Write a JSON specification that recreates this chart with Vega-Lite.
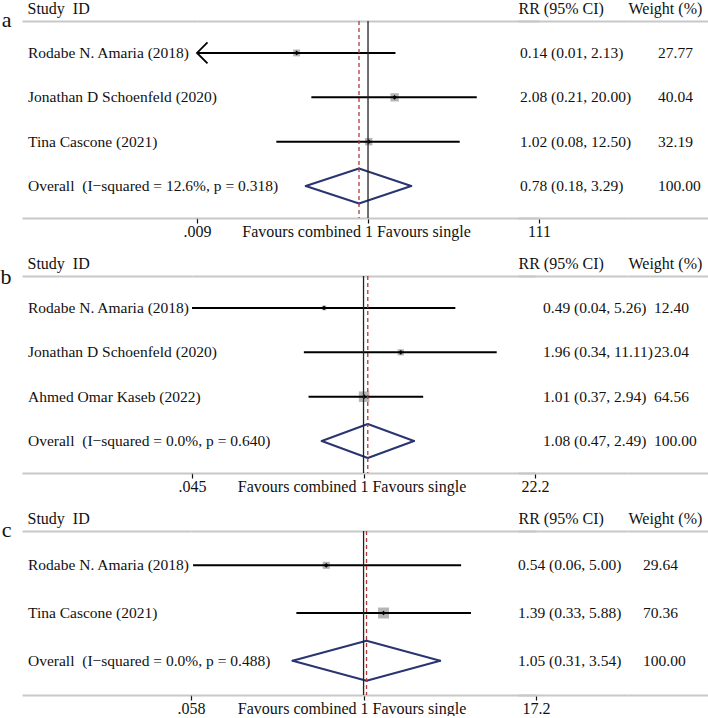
{
"$schema": "https://vega.github.io/schema/vega-lite/v6.json",
"autosize": {"type": "pad"},
"padding": {"left": 0, "top": 0, "right": 0, "bottom": 0},
"background": "white",
"spacing": 16,
"config": {
  "view": {"stroke": null},
  "font": "Liberation Serif",
  "axis": {"grid": false, "domainColor": "#c8c8c8", "domainWidth": 1.8, "labelFont": "Liberation Serif", "titleFont": "Liberation Serif", "titleFontWeight": "normal", "titleColor": "#111", "labelColor": "#111", "titleFontSize": 16, "labelFontSize": 16, "labelLimit": 0},
  "text": {"font": "Liberation Serif", "fontSize": 15.5, "color": "#111"}
},
"datasets": {
  "pa": [
    {"study": "Rodabe N. Amaria (2018)", "kind": "study", "est": 0.14, "lo": 0.0085, "hi": 2.13, "ci": "0.14 (0.01, 2.13)", "w": 27.77},
    {"study": "Jonathan D Schoenfeld (2020)", "kind": "study", "est": 2.08, "lo": 0.21, "hi": 20.0, "ci": "2.08 (0.21, 20.00)", "w": 40.04},
    {"study": "Tina Cascone (2021)", "kind": "study", "est": 1.02, "lo": 0.08, "hi": 12.5, "ci": "1.02 (0.08, 12.50)", "w": 32.19},
    {"study": "Overall\u00a0 (I−squared = 12.6%, p = 0.318)", "kind": "overall", "est": 0.78, "lo": 0.18, "hi": 3.29, "ci": "0.78 (0.18, 3.29)", "w": 100}
  ],
  "pb": [
    {"study": "Rodabe N. Amaria (2018)", "kind": "study", "est": 0.49, "lo": 0.04, "hi": 5.26, "ci": "0.49 (0.04, 5.26)", "w": 12.40},
    {"study": "Jonathan D Schoenfeld (2020)", "kind": "study", "est": 1.96, "lo": 0.34, "hi": 11.11, "ci": "1.96 (0.34, 11.11)", "w": 23.04},
    {"study": "Ahmed Omar Kaseb (2022)", "kind": "study", "est": 1.01, "lo": 0.37, "hi": 2.94, "ci": "1.01 (0.37, 2.94)", "w": 64.56},
    {"study": "Overall\u00a0 (I−squared = 0.0%, p = 0.640)", "kind": "overall", "est": 1.08, "lo": 0.47, "hi": 2.49, "ci": "1.08 (0.47, 2.49)", "w": 100}
  ],
  "pc": [
    {"study": "Rodabe N. Amaria (2018)", "kind": "study", "est": 0.54, "lo": 0.06, "hi": 5.0, "ci": "0.54 (0.06, 5.00)", "w": 29.64},
    {"study": "Tina Cascone (2021)", "kind": "study", "est": 1.39, "lo": 0.33, "hi": 5.88, "ci": "1.39 (0.33, 5.88)", "w": 70.36},
    {"study": "Overall\u00a0 (I−squared = 0.0%, p = 0.488)", "kind": "overall", "est": 1.05, "lo": 0.31, "hi": 3.54, "ci": "1.05 (0.31, 3.54)", "w": 100}
  ]
},
"vconcat": [
{
  "bounds": "flush", "spacing": 0,
  "hconcat": [
    {
      "width": 175, "height": 197, "data": {"name": "pa"},
      "resolve": {"axis": {"x": "independent"}},
      "layer": [
        {"mark": {"type": "text", "align": "left", "baseline": "middle", "dx": 6},
         "encoding": {
           "y": {"field": "study", "type": "nominal", "sort": null, "scale": {"type": "point", "padding": 0.72},
                 "axis": {"title": "a", "titleAngle": 0, "titleAlign": "right", "titleBaseline": "alphabetic", "titleX": -11, "titleY": 5, "titleFontSize": 22, "labels": false, "ticks": false, "domain": false}},
           "x": {"datum": 0, "type": "quantitative", "scale": {"domain": [0, 1]},
                 "axis": {"orient": "top", "title": "Study\u00a0 ID", "titleAngle": 0, "titleAlign": "left", "titleBaseline": "alphabetic", "titleX": 5, "titleY": -8, "labels": false, "ticks": false}},
           "text": {"field": "study"}}},
        {"mark": {"type": "text"},
         "encoding": {"x": {"datum": 0, "type": "quantitative", "axis": {"orient": "bottom", "title": null, "labels": false, "ticks": false}}, "text": {"value": ""}}}
      ]
    },
    {
      "width": 321, "height": 197, "data": {"name": "pa"},
      "resolve": {"axis": {"x": "independent"}},
      "layer": [
        {"transform": [{"filter": "datum.kind == 'study'"}],
         "mark": {"type": "point", "shape": "square", "filled": true, "color": "#b5b5b5", "opacity": 1},
         "encoding": {
           "x": {"field": "est", "type": "quantitative", "scale": {"type": "log", "domain": [0.009, 111], "nice": false, "range": [0, 342], "clamp": true}, "axis": null},
           "y": {"field": "study", "type": "nominal", "sort": null, "scale": {"type": "point", "padding": 0.72}, "axis": null},
           "size": {"field": "w", "type": "quantitative", "scale": {"domain": [0, 100], "range": [0, 170]}, "legend": null}}},
        {"transform": [{"filter": "datum.kind == 'study'"}],
         "mark": {"type": "rule", "color": "#000", "strokeWidth": 2},
         "encoding": {
           "x": {"field": "lo", "type": "quantitative",
                 "axis": {"orient": "bottom", "title": null, "values": [0.009, 1, 111],
                          "labelExpr": "datum.value == 1 ? 'Favours combined 1 Favours single' : (datum.value < 1 ? replace(toString(datum.value), '0.', '.') : toString(datum.value))",
                          "labelFlush": false, "labelOverlap": false, "labelBound": false,
                          "tickColor": "#111", "tickSize": 5, "tickWidth": 1.2, "labelPadding": 0,
                          "labelOffset": {"condition": {"test": "datum.value == 1", "value": -12}, "value": 0}}},
           "x2": {"field": "hi"},
           "y": {"field": "study", "type": "nominal", "sort": null, "axis": null}}},
        {"transform": [{"filter": "datum.kind == 'study'"}],
         "mark": {"type": "point", "shape": "diamond", "filled": true, "size": 22, "color": "#000", "opacity": 1},
         "encoding": {"x": {"field": "est", "type": "quantitative", "axis": null}, "y": {"field": "study", "type": "nominal", "sort": null, "axis": null}}},
        {"transform": [{"filter": "datum.lo < 0.009"}],
         "mark": {"type": "point", "shape": "M1,-1L0,0L1,1", "filled": false, "size": 441, "strokeWidth": 1.8, "color": "#000", "opacity": 1},
         "encoding": {"x": {"datum": 0.009, "type": "quantitative", "axis": null}, "y": {"field": "study", "type": "nominal", "sort": null, "axis": null}}},
        {"transform": [{"filter": "datum.kind == 'overall'"}],
         "mark": {"type": "rule", "color": "#2a3570", "strokeWidth": 2, "strokeCap": "round", "y2Offset": -17.5},
         "encoding": {"x": {"field": "lo", "type": "quantitative", "axis": null}, "x2": {"field": "est"}, "y": {"field": "study", "type": "nominal", "sort": null, "axis": null}, "y2": {"field": "study"}}},
        {"transform": [{"filter": "datum.kind == 'overall'"}],
         "mark": {"type": "rule", "color": "#2a3570", "strokeWidth": 2, "strokeCap": "round", "yOffset": -17.5},
         "encoding": {"x": {"field": "est", "type": "quantitative", "axis": null}, "x2": {"field": "hi"}, "y": {"field": "study", "type": "nominal", "sort": null, "axis": null}, "y2": {"field": "study"}}},
        {"transform": [{"filter": "datum.kind == 'overall'"}],
         "mark": {"type": "rule", "color": "#2a3570", "strokeWidth": 2, "strokeCap": "round", "y2Offset": 17.5},
         "encoding": {"x": {"field": "hi", "type": "quantitative", "axis": null}, "x2": {"field": "est"}, "y": {"field": "study", "type": "nominal", "sort": null, "axis": null}, "y2": {"field": "study"}}},
        {"transform": [{"filter": "datum.kind == 'overall'"}],
         "mark": {"type": "rule", "color": "#2a3570", "strokeWidth": 2, "strokeCap": "round", "yOffset": 17.5},
         "encoding": {"x": {"field": "est", "type": "quantitative", "axis": null}, "x2": {"field": "lo"}, "y": {"field": "study", "type": "nominal", "sort": null, "axis": null}, "y2": {"field": "study"}}},
        {"transform": [{"filter": "datum.kind == 'overall'"}],
         "mark": {"type": "rule", "color": "#b0393b", "strokeWidth": 1.3, "strokeDash": [4, 3]},
         "encoding": {"x": {"field": "est", "type": "quantitative", "axis": null}}},
        {"data": {"values": [{}]},
         "mark": {"type": "rule", "color": "#222", "strokeWidth": 1.3},
         "encoding": {"x": {"datum": 1, "type": "quantitative", "axis": {"orient": "top", "title": null, "labels": false, "ticks": false}}}}
      ]
    },
    {
      "width": 110, "height": 197, "data": {"name": "pa"},
      "resolve": {"axis": {"x": "independent"}},
      "layer": [
        {"mark": {"type": "text", "align": "left", "baseline": "middle", "dx": 2},
         "encoding": {
           "y": {"field": "study", "type": "nominal", "sort": null, "scale": {"type": "point", "padding": 0.72}, "axis": null},
           "x": {"datum": 0, "type": "quantitative", "scale": {"domain": [0, 1]},
                 "axis": {"orient": "top", "title": "RR (95% CI)", "titleAngle": 0, "titleAlign": "left", "titleBaseline": "alphabetic", "titleX": 0, "titleY": -8, "labels": false, "ticks": false}},
           "text": {"field": "ci"}}},
        {"mark": {"type": "text"},
         "encoding": {"x": {"datum": 0, "type": "quantitative", "axis": {"orient": "bottom", "title": null, "labels": false, "ticks": false}}, "text": {"value": ""}}}
      ]
    },
    {
      "width": 81, "height": 197, "data": {"name": "pa"},
      "resolve": {"axis": {"x": "independent"}},
      "layer": [
        {"mark": {"type": "text", "align": "left", "baseline": "middle", "dx": 30},
         "encoding": {
           "y": {"field": "study", "type": "nominal", "sort": null, "scale": {"type": "point", "padding": 0.72}, "axis": null},
           "x": {"datum": 0, "type": "quantitative", "scale": {"domain": [0, 1]},
                 "axis": {"orient": "top", "title": "Weight (%)", "titleAngle": 0, "titleAlign": "left", "titleBaseline": "alphabetic", "titleX": 0, "titleY": -8, "labels": false, "ticks": false}},
           "text": {"field": "w", "type": "quantitative", "format": ".2f"}}},
        {"mark": {"type": "text"},
         "encoding": {"x": {"datum": 0, "type": "quantitative", "axis": {"orient": "bottom", "title": null, "labels": false, "ticks": false}}, "text": {"value": ""}}}
      ]
    }
  ]
},
{
  "bounds": "flush", "spacing": 0,
  "hconcat": [
    {
      "width": 170, "height": 197, "data": {"name": "pb"},
      "resolve": {"axis": {"x": "independent"}},
      "layer": [
        {"mark": {"type": "text", "align": "left", "baseline": "middle", "dx": 6},
         "encoding": {
           "y": {"field": "study", "type": "nominal", "sort": null, "scale": {"type": "point", "padding": 0.72},
                 "axis": {"title": "b", "titleAngle": 0, "titleAlign": "right", "titleBaseline": "alphabetic", "titleX": -11, "titleY": 7, "titleFontSize": 22, "labels": false, "ticks": false, "domain": false}},
           "x": {"datum": 0, "type": "quantitative", "scale": {"domain": [0, 1]},
                 "axis": {"orient": "top", "title": "Study\u00a0 ID", "titleAngle": 0, "titleAlign": "left", "titleBaseline": "alphabetic", "titleX": 5, "titleY": -8, "labels": false, "ticks": false}},
           "text": {"field": "study"}}},
        {"mark": {"type": "text"},
         "encoding": {"x": {"datum": 0, "type": "quantitative", "axis": {"orient": "bottom", "title": null, "labels": false, "ticks": false}}, "text": {"value": ""}}}
      ]
    },
    {
      "width": 326, "height": 197, "data": {"name": "pb"},
      "resolve": {"axis": {"x": "independent"}},
      "layer": [
        {"transform": [{"filter": "datum.kind == 'study'"}],
         "mark": {"type": "point", "shape": "square", "filled": true, "color": "#b5b5b5", "opacity": 1},
         "encoding": {
           "x": {"field": "est", "type": "quantitative", "scale": {"type": "log", "domain": [0.045, 22.2], "nice": false, "range": [0, 343], "clamp": true}, "axis": null},
           "y": {"field": "study", "type": "nominal", "sort": null, "scale": {"type": "point", "padding": 0.72}, "axis": null},
           "size": {"field": "w", "type": "quantitative", "scale": {"domain": [0, 100], "range": [0, 210]}, "legend": null}}},
        {"transform": [{"filter": "datum.kind == 'study'"}],
         "mark": {"type": "rule", "color": "#000", "strokeWidth": 2},
         "encoding": {
           "x": {"field": "lo", "type": "quantitative",
                 "axis": {"orient": "bottom", "title": null, "values": [0.045, 1, 22.2],
                          "labelExpr": "datum.value == 1 ? 'Favours combined 1 Favours single' : (datum.value < 1 ? replace(toString(datum.value), '0.', '.') : toString(datum.value))",
                          "labelFlush": false, "labelOverlap": false, "labelBound": false,
                          "tickColor": "#111", "tickSize": 5, "tickWidth": 1.2, "labelPadding": 0,
                          "labelOffset": {"condition": {"test": "datum.value == 1", "value": -12}, "value": 0}}},
           "x2": {"field": "hi"},
           "y": {"field": "study", "type": "nominal", "sort": null, "axis": null}}},
        {"transform": [{"filter": "datum.kind == 'study'"}],
         "mark": {"type": "point", "shape": "diamond", "filled": true, "size": 22, "color": "#000", "opacity": 1},
         "encoding": {"x": {"field": "est", "type": "quantitative", "axis": null}, "y": {"field": "study", "type": "nominal", "sort": null, "axis": null}}},
        {"transform": [{"filter": "datum.kind == 'overall'"}],
         "mark": {"type": "rule", "color": "#2a3570", "strokeWidth": 2, "strokeCap": "round", "y2Offset": -17},
         "encoding": {"x": {"field": "lo", "type": "quantitative", "axis": null}, "x2": {"field": "est"}, "y": {"field": "study", "type": "nominal", "sort": null, "axis": null}, "y2": {"field": "study"}}},
        {"transform": [{"filter": "datum.kind == 'overall'"}],
         "mark": {"type": "rule", "color": "#2a3570", "strokeWidth": 2, "strokeCap": "round", "yOffset": -17},
         "encoding": {"x": {"field": "est", "type": "quantitative", "axis": null}, "x2": {"field": "hi"}, "y": {"field": "study", "type": "nominal", "sort": null, "axis": null}, "y2": {"field": "study"}}},
        {"transform": [{"filter": "datum.kind == 'overall'"}],
         "mark": {"type": "rule", "color": "#2a3570", "strokeWidth": 2, "strokeCap": "round", "y2Offset": 17},
         "encoding": {"x": {"field": "hi", "type": "quantitative", "axis": null}, "x2": {"field": "est"}, "y": {"field": "study", "type": "nominal", "sort": null, "axis": null}, "y2": {"field": "study"}}},
        {"transform": [{"filter": "datum.kind == 'overall'"}],
         "mark": {"type": "rule", "color": "#2a3570", "strokeWidth": 2, "strokeCap": "round", "yOffset": 17},
         "encoding": {"x": {"field": "est", "type": "quantitative", "axis": null}, "x2": {"field": "lo"}, "y": {"field": "study", "type": "nominal", "sort": null, "axis": null}, "y2": {"field": "study"}}},
        {"transform": [{"filter": "datum.kind == 'overall'"}],
         "mark": {"type": "rule", "color": "#b0393b", "strokeWidth": 1.3, "strokeDash": [4, 3]},
         "encoding": {"x": {"field": "est", "type": "quantitative", "axis": null}}},
        {"data": {"values": [{}]},
         "mark": {"type": "rule", "color": "#222", "strokeWidth": 1.3},
         "encoding": {"x": {"datum": 1, "type": "quantitative", "axis": {"orient": "top", "title": null, "labels": false, "ticks": false}}}}
      ]
    },
    {
      "width": 110, "height": 197, "data": {"name": "pb"},
      "resolve": {"axis": {"x": "independent"}},
      "layer": [
        {"mark": {"type": "text", "align": "left", "baseline": "middle", "dx": 25},
         "encoding": {
           "y": {"field": "study", "type": "nominal", "sort": null, "scale": {"type": "point", "padding": 0.72}, "axis": null},
           "x": {"datum": 0, "type": "quantitative", "scale": {"domain": [0, 1]},
                 "axis": {"orient": "top", "title": "RR (95% CI)", "titleAngle": 0, "titleAlign": "left", "titleBaseline": "alphabetic", "titleX": 0, "titleY": -8, "labels": false, "ticks": false}},
           "text": {"field": "ci"}}},
        {"mark": {"type": "text"},
         "encoding": {"x": {"datum": 0, "type": "quantitative", "axis": {"orient": "bottom", "title": null, "labels": false, "ticks": false}}, "text": {"value": ""}}}
      ]
    },
    {
      "width": 81, "height": 197, "data": {"name": "pb"},
      "resolve": {"axis": {"x": "independent"}},
      "layer": [
        {"mark": {"type": "text", "align": "left", "baseline": "middle", "dx": 26},
         "encoding": {
           "y": {"field": "study", "type": "nominal", "sort": null, "scale": {"type": "point", "padding": 0.72}, "axis": null},
           "x": {"datum": 0, "type": "quantitative", "scale": {"domain": [0, 1]},
                 "axis": {"orient": "top", "title": "Weight (%)", "titleAngle": 0, "titleAlign": "left", "titleBaseline": "alphabetic", "titleX": 0, "titleY": -8, "labels": false, "ticks": false}},
           "text": {"field": "w", "type": "quantitative", "format": ".2f"}}},
        {"mark": {"type": "text"},
         "encoding": {"x": {"datum": 0, "type": "quantitative", "axis": {"orient": "bottom", "title": null, "labels": false, "ticks": false}}, "text": {"value": ""}}}
      ]
    }
  ]
},
{
  "bounds": "flush", "spacing": 0,
  "hconcat": [
    {
      "width": 169, "height": 164, "data": {"name": "pc"},
      "resolve": {"axis": {"x": "independent"}},
      "layer": [
        {"mark": {"type": "text", "align": "left", "baseline": "middle", "dx": 6},
         "encoding": {
           "y": {"field": "study", "type": "nominal", "sort": null, "scale": {"type": "point", "padding": 0.72},
                 "axis": {"title": "c", "titleAngle": 0, "titleAlign": "right", "titleBaseline": "alphabetic", "titleX": -11, "titleY": 5, "titleFontSize": 22, "labels": false, "ticks": false, "domain": false}},
           "x": {"datum": 0, "type": "quantitative", "scale": {"domain": [0, 1]},
                 "axis": {"orient": "top", "title": "Study\u00a0 ID", "titleAngle": 0, "titleAlign": "left", "titleBaseline": "alphabetic", "titleX": 5, "titleY": -8, "labels": false, "ticks": false}},
           "text": {"field": "study"}}},
        {"mark": {"type": "text"},
         "encoding": {"x": {"datum": 0, "type": "quantitative", "axis": {"orient": "bottom", "title": null, "labels": false, "ticks": false}}, "text": {"value": ""}}}
      ]
    },
    {
      "width": 327, "height": 164, "data": {"name": "pc"},
      "resolve": {"axis": {"x": "independent"}},
      "layer": [
        {"transform": [{"filter": "datum.kind == 'study'"}],
         "mark": {"type": "point", "shape": "square", "filled": true, "color": "#b5b5b5", "opacity": 1},
         "encoding": {
           "x": {"field": "est", "type": "quantitative", "scale": {"type": "log", "domain": [0.058, 17.2], "nice": false, "range": [0, 345], "clamp": true}, "axis": null},
           "y": {"field": "study", "type": "nominal", "sort": null, "scale": {"type": "point", "padding": 0.72}, "axis": null},
           "size": {"field": "w", "type": "quantitative", "scale": {"domain": [0, 100], "range": [0, 95]}, "legend": null}}},
        {"transform": [{"filter": "datum.kind == 'study'"}],
         "mark": {"type": "rule", "color": "#000", "strokeWidth": 2},
         "encoding": {
           "x": {"field": "lo", "type": "quantitative",
                 "axis": {"orient": "bottom", "title": null, "values": [0.058, 1, 17.2],
                          "labelExpr": "datum.value == 1 ? 'Favours combined 1 Favours single' : (datum.value < 1 ? replace(toString(datum.value), '0.', '.') : toString(datum.value))",
                          "labelFlush": false, "labelOverlap": false, "labelBound": false,
                          "tickColor": "#111", "tickSize": 5, "tickWidth": 1.2, "labelPadding": 0,
                          "labelOffset": {"condition": {"test": "datum.value == 1", "value": -12}, "value": 0}}},
           "x2": {"field": "hi"},
           "y": {"field": "study", "type": "nominal", "sort": null, "axis": null}}},
        {"transform": [{"filter": "datum.kind == 'study'"}],
         "mark": {"type": "point", "shape": "diamond", "filled": true, "size": 22, "color": "#000", "opacity": 1},
         "encoding": {"x": {"field": "est", "type": "quantitative", "axis": null}, "y": {"field": "study", "type": "nominal", "sort": null, "axis": null}}},
        {"transform": [{"filter": "datum.kind == 'overall'"}],
         "mark": {"type": "rule", "color": "#2a3570", "strokeWidth": 2, "strokeCap": "round", "y2Offset": -20},
         "encoding": {"x": {"field": "lo", "type": "quantitative", "axis": null}, "x2": {"field": "est"}, "y": {"field": "study", "type": "nominal", "sort": null, "axis": null}, "y2": {"field": "study"}}},
        {"transform": [{"filter": "datum.kind == 'overall'"}],
         "mark": {"type": "rule", "color": "#2a3570", "strokeWidth": 2, "strokeCap": "round", "yOffset": -20},
         "encoding": {"x": {"field": "est", "type": "quantitative", "axis": null}, "x2": {"field": "hi"}, "y": {"field": "study", "type": "nominal", "sort": null, "axis": null}, "y2": {"field": "study"}}},
        {"transform": [{"filter": "datum.kind == 'overall'"}],
         "mark": {"type": "rule", "color": "#2a3570", "strokeWidth": 2, "strokeCap": "round", "y2Offset": 20},
         "encoding": {"x": {"field": "hi", "type": "quantitative", "axis": null}, "x2": {"field": "est"}, "y": {"field": "study", "type": "nominal", "sort": null, "axis": null}, "y2": {"field": "study"}}},
        {"transform": [{"filter": "datum.kind == 'overall'"}],
         "mark": {"type": "rule", "color": "#2a3570", "strokeWidth": 2, "strokeCap": "round", "yOffset": 20},
         "encoding": {"x": {"field": "est", "type": "quantitative", "axis": null}, "x2": {"field": "lo"}, "y": {"field": "study", "type": "nominal", "sort": null, "axis": null}, "y2": {"field": "study"}}},
        {"transform": [{"filter": "datum.kind == 'overall'"}],
         "mark": {"type": "rule", "color": "#b0393b", "strokeWidth": 1.3, "strokeDash": [4, 3]},
         "encoding": {"x": {"field": "est", "type": "quantitative", "axis": null}}},
        {"data": {"values": [{}]},
         "mark": {"type": "rule", "color": "#222", "strokeWidth": 1.3},
         "encoding": {"x": {"datum": 1, "type": "quantitative", "axis": {"orient": "top", "title": null, "labels": false, "ticks": false}}}}
      ]
    },
    {
      "width": 110, "height": 164, "data": {"name": "pc"},
      "resolve": {"axis": {"x": "independent"}},
      "layer": [
        {"mark": {"type": "text", "align": "left", "baseline": "middle", "dx": 0},
         "encoding": {
           "y": {"field": "study", "type": "nominal", "sort": null, "scale": {"type": "point", "padding": 0.72}, "axis": null},
           "x": {"datum": 0, "type": "quantitative", "scale": {"domain": [0, 1]},
                 "axis": {"orient": "top", "title": "RR (95% CI)", "titleAngle": 0, "titleAlign": "left", "titleBaseline": "alphabetic", "titleX": 0, "titleY": -8, "labels": false, "ticks": false}},
           "text": {"field": "ci"}}},
        {"mark": {"type": "text"},
         "encoding": {"x": {"datum": 0, "type": "quantitative", "axis": {"orient": "bottom", "title": null, "labels": false, "ticks": false}}, "text": {"value": ""}}}
      ]
    },
    {
      "width": 81, "height": 164, "data": {"name": "pc"},
      "resolve": {"axis": {"x": "independent"}},
      "layer": [
        {"mark": {"type": "text", "align": "left", "baseline": "middle", "dx": 15},
         "encoding": {
           "y": {"field": "study", "type": "nominal", "sort": null, "scale": {"type": "point", "padding": 0.72}, "axis": null},
           "x": {"datum": 0, "type": "quantitative", "scale": {"domain": [0, 1]},
                 "axis": {"orient": "top", "title": "Weight (%)", "titleAngle": 0, "titleAlign": "left", "titleBaseline": "alphabetic", "titleX": 0, "titleY": -8, "labels": false, "ticks": false}},
           "text": {"field": "w", "type": "quantitative", "format": ".2f"}}},
        {"mark": {"type": "text"},
         "encoding": {"x": {"datum": 0, "type": "quantitative", "axis": {"orient": "bottom", "title": null, "labels": false, "ticks": false}}, "text": {"value": ""}}}
      ]
    }
  ]
}
]
}
